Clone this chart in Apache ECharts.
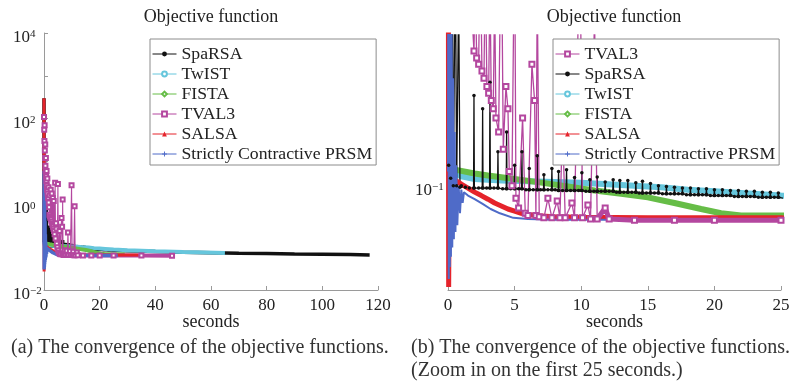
<!DOCTYPE html>
<html>
<head>
<meta charset="utf-8">
<script src="https://cdn.jsdelivr.net/npm/echarts@6/dist/echarts.min.js"></script>
<style>
  html, body { margin: 0; padding: 0; background: #fff; }
  #chart { width: 799px; height: 387px; }
</style>
</head>
<body>
<div id="chart"></div>
<script>
// Objective value versus run time (seconds) for six solvers.
const sparsa = [
  [0, 300], [0.05, 0.13], [0.12, 25], [0.2, 0.11], [0.3, 6], [0.4, 0.1], [0.55, 2.2], [0.65, 0.1],
  [0.8, 1.2], [0.9, 0.098], [1.0, 0.1], [1.3, 0.098],
  [1.6, 0.097], [1.92, 0.097], [1.95, 0.32], [1.98, 0.097],
  [2.3, 0.097], [2.57, 0.097], [2.6, 0.27], [2.63, 0.097],
  [2.9, 0.097], [3.12, 0.097], [3.15, 0.38], [3.18, 0.097],
  [3.45, 0.097], [3.72, 0.097], [3.75, 0.155], [3.78, 0.097],
  [4.1, 0.096], [4.37, 0.096], [4.4, 0.2], [4.43, 0.096],
  [4.7, 0.096], [4.97, 0.096], [5.0, 0.13], [5.03, 0.096],
  [5.3, 0.096], [5.52, 0.096], [5.55, 0.155], [5.58, 0.096],
  [5.85, 0.095], [6.07, 0.095], [6.1, 0.125], [6.13, 0.095],
  [6.4, 0.095], [6.67, 0.095], [6.7, 0.147], [6.73, 0.095],
  [6.95, 0.095], [7.17, 0.095], [7.2, 0.115], [7.23, 0.095],
  [7.5, 0.095], [7.77, 0.095], [7.8, 0.125], [7.83, 0.095],
  [8.05, 0.095], [8.27, 0.094], [8.3, 0.12], [8.33, 0.094],
  [8.6, 0.094], [8.87, 0.094], [8.9, 0.123], [8.93, 0.094],
  [9.2, 0.094], [9.47, 0.094], [9.5, 0.111], [9.53, 0.094],
  [9.8, 0.094], [10.02, 0.094], [10.05, 0.118], [10.08, 0.094],
  [10.35, 0.093], [10.62, 0.093], [10.65, 0.108], [10.68, 0.093],
  [10.95, 0.093], [11.17, 0.093], [11.2, 0.112], [11.23, 0.093],
  [11.5, 0.093], [11.77, 0.093], [11.8, 0.105], [11.83, 0.093],
  [12.1, 0.093], [12.37, 0.093], [12.4, 0.108], [12.43, 0.093],
  [12.65, 0.092], [12.87, 0.092], [12.9, 0.107], [12.93, 0.092],
  [13.2, 0.092], [13.47, 0.092], [13.5, 0.107], [13.53, 0.092],
  [13.8, 0.092], [14.07, 0.092], [14.1, 0.104], [14.13, 0.092],
  [14.35, 0.091], [14.57, 0.091], [14.6, 0.106], [14.63, 0.091],
  [14.9, 0.091], [15.17, 0.091], [15.2, 0.103], [15.23, 0.091],
  [15.5, 0.091], [15.77, 0.091], [15.8, 0.1], [15.83, 0.091],
  [16.1, 0.09], [16.37, 0.09], [16.4, 0.099], [16.43, 0.09],
  [16.7, 0.09], [16.97, 0.09], [17.0, 0.098], [17.03, 0.09],
  [17.3, 0.09], [17.57, 0.09], [17.6, 0.097], [17.63, 0.09],
  [17.9, 0.089], [18.17, 0.089], [18.2, 0.097], [18.23, 0.089],
  [18.5, 0.089], [18.77, 0.089], [18.8, 0.096], [18.83, 0.089],
  [19.1, 0.089], [19.37, 0.089], [19.4, 0.096], [19.43, 0.089],
  [19.7, 0.088], [19.97, 0.088], [20.0, 0.095], [20.03, 0.088],
  [20.3, 0.088], [20.57, 0.088], [20.6, 0.095], [20.63, 0.088],
  [20.9, 0.088], [21.17, 0.088], [21.2, 0.094], [21.23, 0.088],
  [21.5, 0.087], [21.77, 0.087], [21.8, 0.094], [21.83, 0.087],
  [22.1, 0.087], [22.37, 0.087], [22.4, 0.093], [22.43, 0.087],
  [22.7, 0.087], [22.97, 0.087], [23.0, 0.093], [23.03, 0.087],
  [23.3, 0.086], [23.57, 0.086], [23.6, 0.092], [23.63, 0.086],
  [23.9, 0.086], [24.17, 0.086], [24.2, 0.092], [24.23, 0.086],
  [24.5, 0.086], [24.77, 0.086], [24.8, 0.091], [24.83, 0.086],
  [25.2, 0.085], [30, 0.083], [40, 0.079], [50, 0.076], [60, 0.074], [70, 0.072],
  [80, 0.071], [90, 0.069], [100, 0.068], [110, 0.067], [117, 0.066]
];
const twist = [
  [0, 0.125], [0.5, 0.118], [1, 0.113], [2, 0.109], [3, 0.108], [4, 0.107], [6, 0.106], [8, 0.105],
  [10, 0.104], [12, 0.102], [14, 0.1], [16, 0.098], [18, 0.095], [20, 0.093], [22, 0.091],
  [25, 0.088], [30, 0.085], [40, 0.08], [50, 0.077], [58, 0.075], [65, 0.073]
];
const fista = [
  [0, 0.125], [1, 0.121], [2, 0.117], [3, 0.114], [5, 0.109], [7, 0.104], [9, 0.099], [11, 0.094],
  [13, 0.09], [15, 0.086], [17, 0.08], [19, 0.074], [20.5, 0.07], [22, 0.068], [25, 0.068], [29, 0.0675]
];
const tval3 = [
  [0, 110], [0.08, 55], [0.15, 30], [0.22, 70], [0.3, 18], [0.38, 12], [0.45, 25], [0.52, 8],
  [0.6, 6], [0.68, 12], [0.76, 4.5], [0.85, 3.5], [0.93, 6], [1.0, 2.8], [1.1, 2.2], [1.2, 4],
  [1.3, 1.8], [1.45, 1.4], [1.6, 2.5], [1.7, 1.1], [1.82, 0.85], [1.95, 0.57], [2.05, 1.6],
  [2.15, 0.52], [2.3, 0.48], [2.42, 2.2], [2.55, 0.44], [2.7, 0.4], [2.8, 1.8], [2.92, 0.36],
  [3.05, 0.33], [3.15, 1.4], [3.25, 0.3], [3.4, 0.27], [3.5, 1.2], [3.6, 0.24], [3.8, 0.2],
  [4.0, 3.2], [4.15, 0.16], [4.35, 0.36], [4.5, 0.27], [4.6, 0.12], [4.8, 0.1], [5.0, 3.0],
  [5.1, 0.085], [5.3, 0.075], [5.6, 0.24], [5.8, 0.07], [6.0, 0.068], [6.3, 0.48], [6.5, 0.3],
  [6.6, 0.068], [6.7, 1.3], [6.85, 0.067], [7.2, 0.066], [7.5, 0.085], [7.8, 0.066], [8.2, 0.082],
  [8.4, 0.066], [8.6, 0.22], [8.8, 0.066], [9.3, 0.08], [9.5, 0.066], [9.9, 2.8], [10.1, 0.066],
  [10.5, 0.078], [10.7, 0.065], [11.0, 0.9], [11.2, 0.065], [11.8, 0.075], [12.1, 0.065],
  [14, 0.064], [17, 0.064], [20, 0.064], [25, 0.064], [35, 0.064], [46, 0.063]
];
const salsa = [
  [0, 300], [0.05, 0.027], [0.12, 0.24], [0.2, 0.13], [0.3, 0.112], [0.5, 0.108], [1, 0.102],
  [1.5, 0.097], [2, 0.092], [2.5, 0.088], [3, 0.084], [3.5, 0.08], [4, 0.077], [4.5, 0.074],
  [5, 0.072], [5.5, 0.07], [6, 0.069], [7, 0.0675], [8, 0.067], [10, 0.0665], [15, 0.066],
  [20, 0.066], [25, 0.066], [30, 0.0655], [34, 0.0655]
];
const prsm = [
  [0, 0.12], [0.03, 6], [0.06, 0.03], [0.1, 3], [0.14, 0.035], [0.18, 1.5], [0.22, 0.04],
  [0.27, 0.8], [0.32, 0.045], [0.38, 0.4], [0.44, 0.05], [0.5, 0.2], [0.56, 0.055], [0.62, 0.13],
  [0.7, 0.06], [0.8, 0.1], [0.9, 0.07], [1.0, 0.095], [1.1, 0.08], [1.2, 0.092], [1.5, 0.088],
  [2, 0.084], [2.6, 0.079], [3.2, 0.074], [3.9, 0.07], [4.9, 0.066], [6, 0.065], [8, 0.0645],
  [12, 0.0645], [20, 0.064], [26.5, 0.064]
];

const leftOrder = ['SpaRSA', 'TwIST', 'FISTA', 'TVAL3', 'SALSA', 'Strictly Contractive PRSM'];
const rightOrder = ['TVAL3', 'SpaRSA', 'TwIST', 'FISTA', 'SALSA', 'Strictly Contractive PRSM'];
const xTicksLeft = [0, 120, 20];   // min, max, step
const xTicksRight = [0, 25, 5];

const FONT = 'Liberation Serif';
const TEXT = '#222';
const AXIS = '#9a9a9a';

const look = {
  'SpaRSA': { color: '#111111', symbol: 'circle' },
  'TwIST': { color: '#66c6dc', symbol: 'emptyCircle' },
  'FISTA': { color: '#66bd47', symbol: 'emptyDiamond' },
  'TVAL3': { color: '#b4479f', symbol: 'emptyRect' },
  'SALSA': { color: '#e5232b', symbol: 'triangle' },
  'Strictly Contractive PRSM': { color: '#4f6bc8', symbol: 'path://M4,0H6V4H10V6H6V10H4V6H0V4H4Z' }
};

function line(name, data, grid, width, showSymbol, size) {
  const c = look[name].color;
  return {
    type: 'line', name, data, xAxisIndex: grid, yAxisIndex: grid,
    symbol: look[name].symbol, symbolSize: size || 4, showSymbol: !!showSymbol,
    lineStyle: { color: c, width }, itemStyle: { color: c, borderWidth: 1 },
    clip: true, animation: false, silent: true, z: 2
  };
}

// the converged stretch of TVAL3 is drawn as a heavy band
const tvalTail = tval3.filter(p => p[0] >= 11.2);

const series = [
  // left panel: full run
  line('SpaRSA', sparsa, 0, 3.5, false),
  line('TwIST', twist, 0, 4, false),
  line('FISTA', fista, 0, 4, false),
  line('TVAL3', tval3, 0, 1.1, true, 4),
  line('TVAL3', tvalTail, 0, 4, false),
  line('SALSA', salsa, 0, 3, false),
  line('Strictly Contractive PRSM', prsm, 0, 3.5, false),
  // right panel: first 25 seconds
  line('TwIST', twist, 1, 6, false),
  line('FISTA', fista, 1, 6, false),
  line('SpaRSA', sparsa, 1, 1.3, true, 3.5),
  line('SALSA', salsa, 1, 5, false),
  line('Strictly Contractive PRSM', prsm, 1, 2, false),
  line('TVAL3', tval3, 1, 1.3, true, 5),
  line('TVAL3', tvalTail, 1, 5, false)
];

function powerLabel(v) {
  const e = Math.round(Math.log10(v));
  if (Math.abs(Math.log10(v) - e) > 1e-6) return '';
  return '{b|10}{s|' + (e < 0 ? '\u2212' + (-e) : String(e)) + '}';
}
const powRich = {
  b: { fontFamily: FONT, fontSize: 17, color: TEXT, lineHeight: 17, padding: [4, 0, 0, 0], verticalAlign: 'bottom' },
  s: { fontFamily: FONT, fontSize: 11, color: TEXT, lineHeight: 11, verticalAlign: 'top' }
};

function xAxis(grid, t) {
  return {
    type: 'value', gridIndex: grid, min: t[0], max: t[1], interval: t[2],
    name: 'seconds', nameLocation: 'middle', nameGap: 23, nameMoveOverlap: false,
    nameTextStyle: { fontFamily: FONT, fontSize: 18, color: TEXT },
    axisLine: { lineStyle: { color: AXIS, width: 1 } },
    axisTick: { inside: true, length: 4, lineStyle: { color: AXIS } },
    axisLabel: { fontFamily: FONT, fontSize: 17, color: TEXT, margin: 7 },
    splitLine: { show: false }
  };
}

function legendItems(order) {
  return order.map(n => ({
    name: n,
    lineStyle: { width: 1, color: look[n].color },
    itemStyle: { color: look[n].color }
  }));
}
function legend(left, order) {
  return {
    left, top: 39, orient: 'vertical', data: legendItems(order),
    padding: [6, 4, 2, 2], itemGap: 2, itemWidth: 24, itemHeight: 6,
    borderColor: '#8c8c8c', borderWidth: 1, backgroundColor: '#fff',
    textStyle: { fontFamily: FONT, fontSize: 17.7, color: TEXT, lineHeight: 18 },
    selectedMode: false, z: 10
  };
}

function text(x, y, str, size, align, color) {
  return {
    type: 'text', x, y, silent: true, z: 20,
    style: { text: str, font: size + 'px "' + FONT + '"', fill: color || TEXT, align: align || 'left', verticalAlign: 'middle' }
  };
}

const option = {
  backgroundColor: '#fff',
  animation: false,
  grid: [
    { left: 44, top: 33, width: 334, height: 257 },
    { left: 448, top: 35, width: 333, height: 255 }
  ],
  xAxis: [xAxis(0, xTicksLeft), xAxis(1, xTicksRight)],
  yAxis: [
    {
      type: 'log', logBase: 10, gridIndex: 0, min: 0.01, max: 10000,
      axisLine: { show: true, lineStyle: { color: AXIS, width: 1 } },
      axisTick: { show: true, inside: true, length: 4, lineStyle: { color: AXIS } },
      axisLabel: {
        align: 'left', margin: 31, rich: powRich, padding: [9, 0, 0, 0],
        formatter: v => { const e = Math.round(Math.log10(v)); return e % 2 === 0 ? powerLabel(v) : ''; }
      },
      splitLine: { show: false }
    },
    {
      type: 'log', logBase: 10, gridIndex: 1, min: 0.026, max: 0.7,
      axisLine: { show: true, lineStyle: { color: AXIS, width: 1 } },
      axisTick: { show: true, inside: true, length: 4, lineStyle: { color: AXIS } },
      axisLabel: {
        align: 'left', margin: 33, rich: powRich, padding: [9, 0, 0, 0],
        showMinLabel: false, showMaxLabel: false, formatter: powerLabel
      },
      splitLine: { show: false }
    }
  ],
  legend: [legend(150, leftOrder), legend(553, rightOrder)],
  series,
  graphic: [
    text(211, 17, 'Objective function', 18, 'center'),
    text(614, 17, 'Objective function', 18, 'center'),
    text(11, 348, '(a) The convergence of the objective functions.', 20, 'left', '#333'),
    text(411, 348, '(b) The convergence of the objective functions.', 20, 'left', '#333'),
    text(411, 371, '(Zoom in on the first 25 seconds.)', 20, 'left', '#333')
  ]
};

const chart = echarts.init(document.getElementById('chart'));
chart.setOption(option);
</script>
</body>
</html>
